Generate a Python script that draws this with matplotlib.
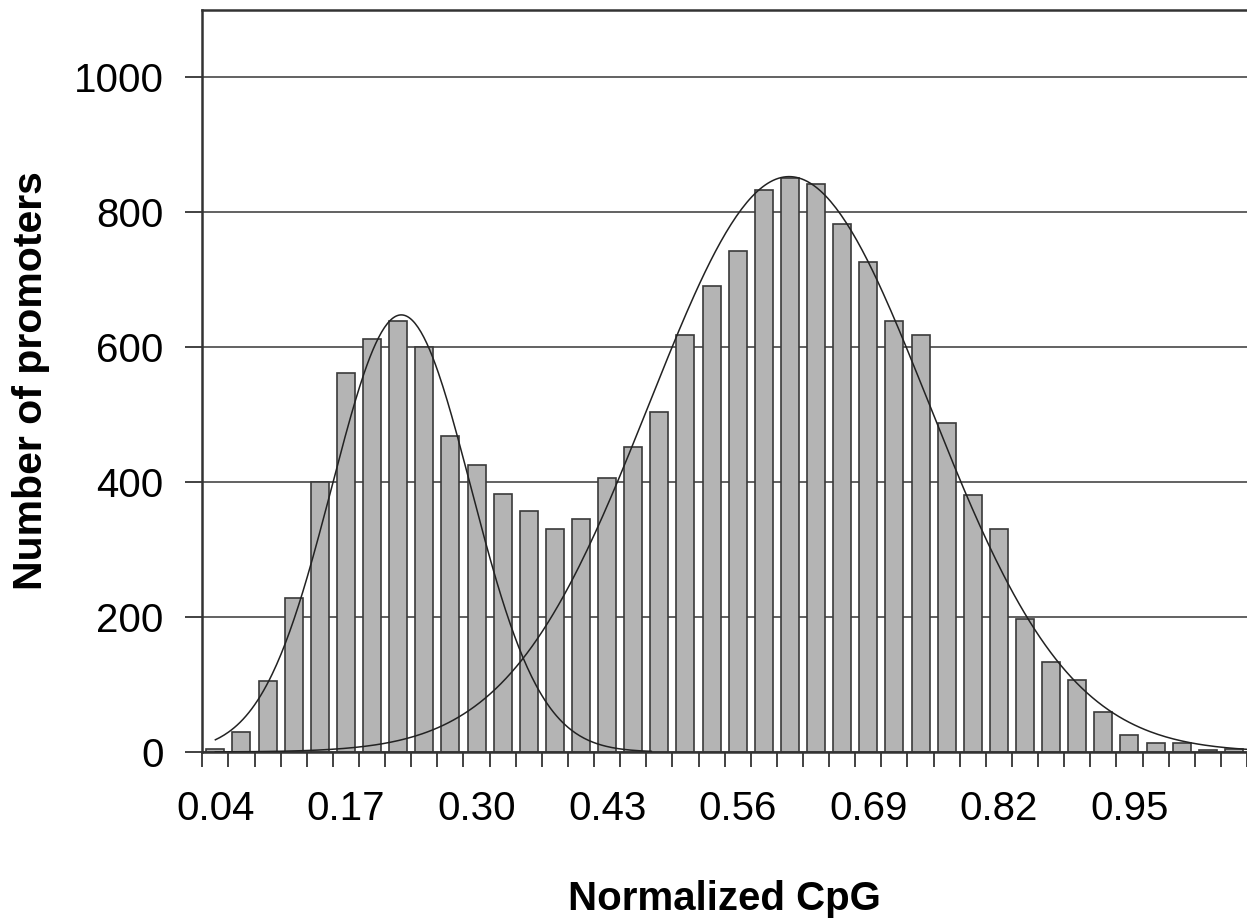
import numpy as np
import matplotlib
matplotlib.use("Agg")
import matplotlib.pyplot as plt

plt.rcParams['font.family'] = ['Liberation Sans', 'DejaVu Sans']

# ---- data ----
bin_start = 0.04
bin_step = 0.026
counts = [5, 29, 105, 228, 400, 562, 612, 639, 600, 469,
          426, 383, 357, 330, 345, 406, 452, 504, 618, 691,
          743, 833, 851, 842, 783, 726, 639, 618, 488, 381,
          330, 197, 133, 107, 60, 25, 14, 14, 3, 5]
tick_labels = ["0.04", "0.17", "0.30", "0.43", "0.56", "0.69", "0.82", "0.95"]
label_every = 5

# fitted normal curves (peak height, mean, sd, x-range end)
low_peak, low_mean, low_sd, low_end = 648, 0.2251, 0.0692, 0.474
high_peak, high_mean, high_sd = 853, 0.6112, 0.139

n = len(counts)
centers = bin_start + bin_step * np.arange(n)

fig = plt.figure(figsize=(12.47, 9.22), dpi=100)
ax = fig.add_axes([202.3 / 1247, (922 - 752) / 922, 1 - 202.3 / 1247, (752 - 10) / 922])

ax.set_axisbelow(True)
ax.yaxis.grid(True, color='#555555', linewidth=1.3)
ax.bar(centers, counts, width=bin_step * 0.69, color='#b4b4b4',
       edgecolor='#3a3a3a', linewidth=1.2, zorder=2)

xl = np.linspace(bin_start, low_end, 300)
ax.plot(xl, low_peak * np.exp(-0.5 * ((xl - low_mean) / low_sd) ** 2),
        color='#222222', linewidth=1.1, zorder=3)
xh = np.linspace(bin_start, centers[-1] + bin_step, 400)
ax.plot(xh, high_peak * np.exp(-0.5 * ((xh - high_mean) / high_sd) ** 2),
        color='#222222', linewidth=1.1, zorder=3)

x_left = bin_start - bin_step / 2
x_right = x_left + bin_step * (1247 - 202.3) / 26.4
ax.set_xlim(x_left, x_right)
ax.set_ylim(0, 1100)

# boundary ticks
bounds = x_left + bin_step * np.arange(n + 1)
ax.set_xticks(bounds)
ax.set_xticklabels([''] * len(bounds))
ax.set_xticks(centers[::label_every][:len(tick_labels)], tick_labels, minor=True)
ax.tick_params(axis='x', which='major', length=11, width=1.3, color='#333333', direction='out')
ax.tick_params(axis='x', which='minor', length=0, pad=27, labelsize=29)

ax.set_yticks(np.arange(0, 1001, 200))
ax.tick_params(axis='y', which='major', length=12, width=1.3, color='#333333',
               direction='out', pad=16, labelsize=29)

for s in ['left', 'top', 'bottom']:
    ax.spines[s].set_linewidth(1.8)
    ax.spines[s].set_color('#333333')
ax.spines['right'].set_visible(False)

ax.set_xlabel('Normalized CpG', fontsize=29, fontweight='bold', labelpad=38)
ax.set_ylabel('Number of promoters', fontsize=29.5, fontweight='bold', labelpad=17)

fig.savefig('out.png', dpi=100)
